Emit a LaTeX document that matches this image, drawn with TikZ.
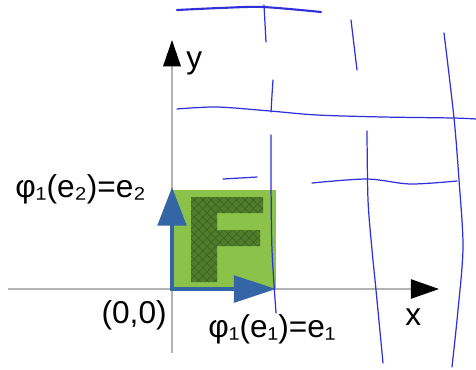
\documentclass[tikz,border=0pt]{standalone}
\usepackage{fontspec}
\setmainfont{Liberation Sans}
\usetikzlibrary{arrows.meta,patterns.meta}
\definecolor{sqgreen}{HTML}{8BC34A}
\definecolor{fgreen}{HTML}{4E7D2B}
\definecolor{hatchgreen}{HTML}{3A5E20}
\definecolor{vecblue}{HTML}{3465A4}
\definecolor{penblue}{HTML}{3030DA}
\definecolor{axisgray}{HTML}{B3B3B3}

\begin{document}
\begin{tikzpicture}[x=0.02cm, y=-0.02cm,
  axis/.style={axisgray, line width=0.85pt},
  lbl/.style={inner sep=0pt, font=\fontsize{18}{21}\selectfont},
  pen/.style={penblue, line width=0.7pt, line cap=round}]

  \useasboundingbox (0,0) rectangle (476,369);

  % Axes
  \coordinate (xs) at (8,289);
  \coordinate (xe) at (439,289);
  \coordinate (ys) at (172,353);
  \coordinate (ye) at (172,40);
  \draw[axis, -{Triangle[length=16pt, width=11pt, black]}] (xs) -- (xe);
  \draw[axis, -{Triangle[length=15pt, width=10pt, black]}] (ys) -- (ye);
  \node[lbl, anchor=base west] (xlab) at (405,325) {x};
  \node[lbl, anchor=base west] (ylab) at (186,68) {y};

  % Square with the letter F
  \fill[sqgreen] (172,190) rectangle (276,289);
  \fill[fgreen] (191,197) -- (263,197) -- (263,213) -- (217,213) -- (217,230)
    -- (260,230) -- (260,246) -- (217,246) -- (217,282) -- (191,282) -- cycle;
  \fill[pattern={Hatch[angle=45, distance=3.4pt, line width=0.3pt]}, pattern color=hatchgreen]
    (191,197) -- (263,197) -- (263,213) -- (217,213) -- (217,230)
    -- (260,230) -- (260,246) -- (217,246) -- (217,282) -- (191,282) -- cycle;

  % Basis vectors
  \coordinate (O) at (172,289);
  \coordinate (e1) at (276,289);
  \coordinate (e2) at (172,187);
  \draw[vecblue, line width=2.8pt, line join=miter,
    {Triangle[length=22pt, width=16pt]}-{Triangle[length=24pt, width=15pt]}] (e2) -- (O) -- (e1);

  \node[lbl, anchor=base east] (orig) at (167,323) {(0,0)};
  \node[lbl, anchor=base west] (phi1) at (208,337) {φ₁(e₁)=e₁};
  \node[lbl, anchor=base west] (phi2) at (15,197) {φ₁(e₂)=e₂};

  % Hand drawn grid
  \draw[pen, line width=1.2pt] plot[smooth] coordinates {(177,10) (220,8) (263,7) (321,12)};
  \draw[pen] (264,5) -- (266,42);
  \draw[pen] plot[smooth] coordinates {(351,20) (354,45) (357,70)};
  \draw[pen] plot[smooth] coordinates {(444,33) (454,118) (459,180) (463,247) (458,310) (452,367)};
  \draw[pen] plot[smooth] coordinates {(273,80) (272,95) (271,112)};
  \draw[pen] plot[smooth] coordinates {(177,109) (217,107) (270,111) (317,115) (383,117) (453,118) (476,119)};
  \draw[pen] plot[smooth] coordinates {(271,135) (271,180) (272,250) (276,313)};
  \draw[pen] (223,179) -- (257,177);
  \draw[pen] plot[smooth] coordinates {(312,183) (367,179) (410,184) (457,181)};
  \draw[pen] plot[smooth] coordinates {(367,131) (368,200) (372,250) (376,290) (383,363)};

\end{tikzpicture}
\end{document}
